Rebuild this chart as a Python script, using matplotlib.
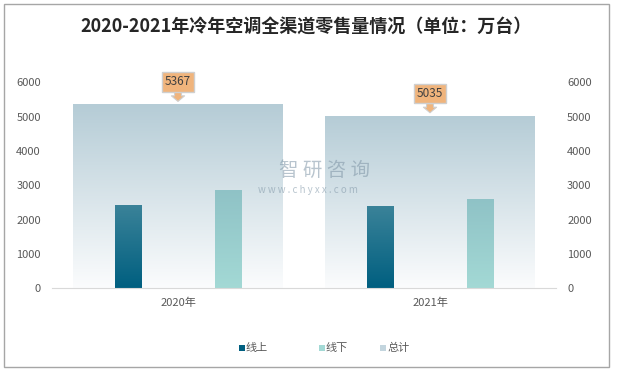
import numpy as np
import matplotlib.pyplot as plt
from matplotlib.patches import Rectangle
from matplotlib.colors import LinearSegmentedColormap

plt.rcParams['font.family'] = ['Noto Sans CJK SC', 'DejaVu Sans']

# data
years = ['2020年', '2021年']
online = [2430, 2400]
offline = [2870, 2600]
total = [5367, 5035]
series_names = ['线上', '线下', '总计']
yticks = [0, 1000, 2000, 3000, 4000, 5000, 6000]

W, H = 620, 374
fig = plt.figure(figsize=(W / 100, H / 100), dpi=100)
ax = fig.add_axes([52 / W, 1 - 288 / H, 504 / W, 205.5 / H])

grad = np.linspace(0, 1, 256).reshape(-1, 1)


def grad_bars(xs, vals, width, bottom_col, top_col, z):
    bars = ax.bar(xs, vals, width, color='none', edgecolor='none', zorder=z)
    cmap = LinearSegmentedColormap.from_list('g', [bottom_col, top_col])
    for b in bars:
        x0, w, h = b.get_x(), b.get_width(), b.get_height()
        im = ax.imshow(grad, cmap=cmap, aspect='auto', origin='lower',
                       extent=[x0, x0 + w, 0, h], zorder=z)
        im.set_clip_path(b)
    return bars


x = np.arange(len(years))
grad_bars(x, total, 0.833, '#fbfcfd', '#b5ccd6', 1)
grad_bars(x - 0.198, online, 0.105, '#005f80', '#3b8399', 2)
grad_bars(x + 0.2, offline, 0.105, '#a3d9d5', '#8fc2c6', 2)

# callout labels for the totals
for xi, v in zip(x, total):
    ax.annotate(f'{v}', xy=(xi, v), xytext=(0, 16), textcoords='offset points',
                ha='center', va='center', fontsize=8.5, color='#404040', zorder=5,
                bbox=dict(boxstyle='square,pad=0.28', fc='#f0b47c', ec='#cfcfcf', lw=1),
                arrowprops=dict(arrowstyle='simple,head_length=0.4,head_width=0.95,tail_width=0.5',
                                mutation_scale=10, fc='#f0b47c', ec='#cfcfcf', lw=0.8,
                                shrinkA=0, shrinkB=2))

ax.set_xlim(-0.5, len(years) - 0.5)
ax.set_ylim(0, 6000)
ax.set_xticks(x)
ax.set_xticklabels(years)
ax.set_yticks(yticks)
ax.tick_params(axis='both', length=0, labelsize=8, colors='#595959')
ax.tick_params(axis='x', pad=7)
ax.tick_params(axis='y', pad=8)
for s in ['top', 'left', 'right']:
    ax.spines[s].set_visible(False)
ax.spines['bottom'].set_color('#d9d9d9')

ax2 = ax.twinx()
ax2.set_ylim(0, 6000)
ax2.set_yticks(yticks)
ax2.tick_params(axis='y', length=0, labelsize=8, colors='#595959', pad=8)
for s in ax2.spines.values():
    s.set_visible(False)

# watermark
fig.text(325 / W, 1 - 170 / H, '智 研 咨 询', fontsize=14, color='#7f95a6', alpha=0.55,
         ha='center', va='center', zorder=0)
fig.text(308 / W, 1 - 190 / H, 'w w w . c h y x x . c o m', fontsize=7, color='#7f95a6',
         alpha=0.55, ha='center', va='center')

# title
fig.text(306 / W, 1 - 27 / H, '2020-2021年冷年空调全渠道零售量情况（单位：万台）',
         fontsize=13, fontweight='bold', color='#262626', ha='center', va='center')

# legend
legend_cols = ['#005f80', '#a3d9d5', '#c3d5de']
legend_x = [239, 319, 380]
for name, col, lx in zip(series_names, legend_cols, legend_x):
    fig.add_artist(Rectangle((lx / W, 1 - 351 / H), 6 / W, 6 / H, transform=fig.transFigure,
                             fc=col, ec='none'))
    fig.text((lx + 7) / W, 1 - 348 / H, name, fontsize=8, color='#595959', va='center')

# outer border
fig.add_artist(Rectangle((4 / W, 1 - 367 / H), 605 / W, 363 / H, transform=fig.transFigure,
                         fill=False, ec='#a6a6a6', lw=1))

fig.savefig('out.png', dpi=100)
